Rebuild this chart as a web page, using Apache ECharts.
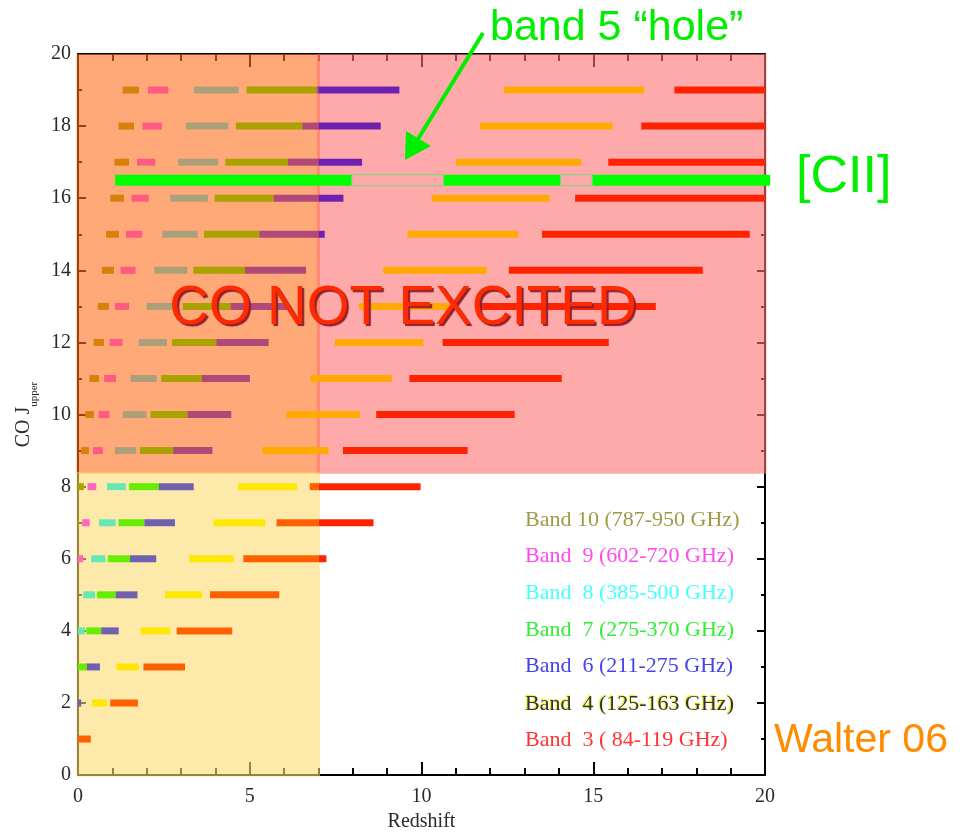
<!DOCTYPE html>
<html>
<head>
<meta charset="utf-8">
<script src="https://cdn.jsdelivr.net/npm/echarts@6/dist/echarts.min.js"></script>
<style>
  html, body { margin: 0; padding: 0; background: #ffffff; }
  #chart { width: 975px; height: 837px; }
</style>
</head>
<body>
<div id="chart"></div>
<script>
// Redshift range covered by each ALMA band for every CO rotational line.
// Each entry: [J_upper, z_start, z_end]
const band10 = [[7, 0, 0.025], [8, 0, 0.171], [9, 0.091, 0.318], [10, 0.213, 0.464], [11, 0.334, 0.610],
  [12, 0.455, 0.756], [13, 0.576, 0.902], [14, 0.697, 1.048], [15, 0.817, 1.194], [16, 0.938, 1.340],
  [17, 1.059, 1.485], [18, 1.180, 1.631], [19, 1.300, 1.777]];
const band9 = [[6, 0, 0.149], [7, 0.120, 0.340], [8, 0.280, 0.531], [9, 0.440, 0.722], [10, 0.600, 0.914],
  [11, 0.760, 1.105], [12, 0.919, 1.296], [13, 1.079, 1.487], [14, 1.239, 1.677], [15, 1.398, 1.868],
  [16, 1.557, 2.059], [17, 1.717, 2.249], [18, 1.876, 2.440], [19, 2.035, 2.630]];
const band8 = [[4, 0, 0.198], [5, 0.153, 0.497], [6, 0.383, 0.796], [7, 0.613, 1.095], [8, 0.844, 1.394],
  [9, 1.074, 1.693], [10, 1.304, 1.992], [11, 1.534, 2.291], [12, 1.764, 2.590], [13, 1.994, 2.888],
  [14, 2.224, 3.186], [15, 2.453, 3.485], [16, 2.683, 3.783], [17, 2.912, 4.081], [18, 3.141, 4.378],
  [19, 3.370, 4.676]];
const band7 = [[3, 0, 0.257], [4, 0.246, 0.677], [5, 0.557, 1.096], [6, 0.869, 1.514], [7, 1.180, 1.933],
  [8, 1.491, 2.352], [9, 1.802, 2.771], [10, 2.113, 3.189], [11, 2.424, 3.607], [12, 2.735, 4.025],
  [13, 3.046, 4.443], [14, 3.356, 4.861], [15, 3.666, 5.279], [16, 3.977, 5.696], [17, 4.287, 6.113],
  [18, 4.596, 6.530], [19, 4.906, 6.946]];
const band6 = [[2, 0, 0.093], [3, 0.257, 0.639], [4, 0.677, 1.185], [5, 1.096, 1.731], [6, 1.514, 2.277],
  [7, 1.933, 2.823], [8, 2.352, 3.369], [9, 2.771, 3.914], [10, 3.189, 4.460], [11, 3.607, 5.005],
  [12, 4.025, 5.550], [13, 4.443, 6.094], [14, 4.861, 6.639], [15, 5.279, 7.183], [16, 5.696, 7.727],
  [17, 6.113, 8.270], [18, 6.530, 8.813], [19, 6.946, 9.356]];
const band4 = [[2, 0.414, 0.844], [3, 1.121, 1.766], [4, 1.828, 2.688], [5, 2.535, 3.610], [6, 3.242, 4.532],
  [7, 3.949, 5.453], [8, 4.655, 6.374], [9, 5.361, 7.295], [10, 6.067, 8.216], [11, 6.773, 9.136],
  [12, 7.479, 10.056], [13, 8.184, 10.975], [14, 8.888, 11.894], [15, 9.593, 12.813], [16, 10.297, 13.731],
  [17, 11.000, 14.648], [18, 11.703, 15.565], [19, 12.406, 16.481]];
const band3 = [[1, 0, 0.372], [2, 0.937, 1.745], [3, 1.906, 3.117], [4, 2.874, 4.489], [5, 3.843, 5.860],
  [6, 4.811, 7.232], [7, 5.779, 8.603], [8, 6.746, 9.974], [9, 7.714, 11.344], [10, 8.681, 12.714],
  [11, 9.647, 14.084], [12, 10.613, 15.452], [13, 11.579, 16.821], [14, 12.544, 18.188], [15, 13.509, 19.555],
  [16, 14.473, 20], [17, 15.437, 20], [18, 16.400, 20], [19, 17.362, 20]];

// [CII] 158 micron line (sits between CO 16-15 and 17-16)
const ciiJ = 16.5;
const ciiCovered = [[1.08, 7.97], [10.64, 14.05], [14.97, 20.15]];
const ciiGaps = [[7.97, 10.64], [14.05, 14.97]];

// Shaded zones: CO lines above this J are not excited; redshift boundary
const excitedMaxJ = 8.4;
const zBoundary = 7;

const legendLabels = ['Band 10 (787-950 GHz)', 'Band  9 (602-720 GHz)', 'Band  8 (385-500 GHz)',
  'Band  7 (275-370 GHz)', 'Band  6 (211-275 GHz)', 'Band  4 (125-163 GHz)', 'Band  3 ( 84-119 GHz)'];

// ---- styling ----
// colours per band: t/b = above/below the excitation limit, l/r = below/above z boundary
const palette = {
  b10: { tl: '#d8800c', bl: '#b2a000' },
  b9:  { tl: '#ff5a82', bl: '#ff66c0' },
  b8:  { tl: '#aca07a', bl: '#66e8b4' },
  b7:  { tl: '#aaa200', bl: '#66ee00' },
  b6:  { tl: '#b04878', tr: '#7020b0', bl: '#7060b0' },
  b4:  { tl: '#ffaa00', tr: '#ffaa00', bl: '#ffe800' },
  b3:  { tl: '#ff2200', tr: '#ff2200', bl: '#ff6000', br: '#ff2200' }
};
const legendColors = ['#a09a48', '#ff48ee', '#44ffff', '#33ee33', '#4444ee', '#333333', '#ff3333'];

const bands = [
  { key: 'b10', rows: band10 }, { key: 'b9', rows: band9 }, { key: 'b8', rows: band8 },
  { key: 'b7', rows: band7 }, { key: 'b6', rows: band6 }, { key: 'b4', rows: band4 },
  { key: 'b3', rows: band3 }
];

const barItems = [];
bands.forEach(function (b) {
  b.rows.forEach(function (r) {
    const j = r[0], z0 = r[1], z1 = r[2];
    const row = j > excitedMaxJ ? 't' : 'b';
    const pieces = (z0 < zBoundary && z1 > zBoundary) ? [[z0, zBoundary], [zBoundary, z1]] : [[z0, z1]];
    pieces.forEach(function (p) {
      const side = p[0] < zBoundary ? 'l' : 'r';
      barItems.push({ value: [p[0], p[1], j], itemStyle: { color: palette[b.key][row + side] } });
    });
  });
});

const regionItems = [
  { value: [0, excitedMaxJ, zBoundary, 20], itemStyle: { color: '#ff6e1e' } },
  { value: [zBoundary, excitedMaxJ, 20, 20], itemStyle: { color: '#ff7171' } },
  { value: [0, 0, zBoundary, excitedMaxJ], itemStyle: { color: '#fbda71' } }
];

const serif = 'Liberation Serif, Times New Roman, serif';
const sans = 'Liberation Sans, Arial, sans-serif';

function renderRegion(params, api) {
  const a = api.coord([api.value(0), api.value(3)]);
  const b = api.coord([api.value(2), api.value(1)]);
  const pad = 1.5;
  return {
    type: 'rect',
    shape: { x: a[0] - pad, y: a[1], width: b[0] - a[0] + 2 * pad, height: b[1] - a[1] + pad },
    style: { fill: api.visual('color'), opacity: 0.6 }
  };
}

function renderBar(params, api) {
  const a = api.coord([api.value(0), api.value(2)]);
  const b = api.coord([api.value(1), api.value(2)]);
  const h = 7;
  return {
    type: 'rect',
    shape: { x: a[0], y: a[1] - h / 2, width: Math.max(b[0] - a[0], 1), height: h },
    style: { fill: api.visual('color') }
  };
}

function renderCii(params, api) {
  const a = api.coord([api.value(0), ciiJ]);
  const b = api.coord([api.value(1), ciiJ]);
  const h = 11;
  return {
    type: 'rect',
    shape: { x: a[0], y: a[1] - h / 2, width: b[0] - a[0], height: h },
    style: { fill: '#00ff00' }
  };
}

function renderCiiGap(params, api) {
  const a = api.coord([api.value(0), ciiJ]);
  const b = api.coord([api.value(1), ciiJ]);
  const h = 11;
  return {
    type: 'rect',
    shape: { x: a[0], y: a[1] - h / 2, width: b[0] - a[0], height: h },
    style: { fill: 'none', stroke: '#7ad87a', lineWidth: 1 }
  };
}

const axisLineStyle = { color: '#000000', width: 2 };
const labelStyle = { fontFamily: serif, fontSize: 20, color: '#2a2a2a' };

const chart = echarts.init(document.getElementById('chart'), null, { renderer: 'canvas' });

const legendGraphics = legendLabels.map(function (t, i) {
  const ys = [520, 556, 593, 630, 666, 704, 740];
  const st = {
    text: t, x: 525, y: ys[i], textVerticalAlign: 'middle', textAlign: 'left',
    font: '22px ' + serif, fill: legendColors[i]
  };
  if (i === 5) {
    st.textShadowColor = '#eeee00';
    st.textShadowOffsetX = -1;
    st.textShadowOffsetY = -1;
    st.textShadowBlur = 1;
  }
  return { type: 'text', z: 20, style: st };
});

function makeX(pos, withLabels) {
  return {
    type: 'value', min: 0, max: 20, interval: 5, position: pos,
    name: withLabels ? 'Redshift' : '', nameLocation: 'middle', nameGap: 35,
    nameTextStyle: { fontFamily: serif, fontSize: 20, color: '#2a2a2a' },
    axisLine: { show: true, onZero: false, lineStyle: axisLineStyle },
    axisTick: { show: true, inside: true, length: 13, lineStyle: { color: '#000', width: 2 } },
    minorTick: { show: true, splitNumber: 5, length: 7, lineStyle: { color: '#000', width: 2 } },
    axisLabel: withLabels ? Object.assign({ margin: 12 }, labelStyle) : { show: false },
    splitLine: { show: false }
  };
}

function makeY(pos, withLabels) {
  return {
    type: 'value', min: 0, max: 20, interval: 2, position: pos,
    name: withLabels ? 'CO J{sub|upper}' : '', nameLocation: 'middle', nameGap: 35,
    nameTextStyle: {
      fontFamily: serif, fontSize: 20, color: '#2a2a2a',
      rich: { sub: { fontFamily: serif, fontSize: 11, color: '#2a2a2a', verticalAlign: 'bottom', lineHeight: 32 } }
    },
    axisLine: { show: true, onZero: false, lineStyle: axisLineStyle },
    axisTick: { show: true, inside: true, length: 8, lineStyle: { color: '#000', width: 2 } },
    minorTick: { show: true, splitNumber: 2, length: 4, lineStyle: { color: '#000', width: 2 } },
    axisLabel: withLabels ? Object.assign({ margin: 7 }, labelStyle) : { show: false },
    splitLine: { show: false }
  };
}

chart.setOption({
  animation: false,
  backgroundColor: '#ffffff',
  grid: { left: 78, right: 210, top: 54, bottom: 56 },
  xAxis: [makeX('bottom', true), makeX('top', false)],
  yAxis: [makeY('left', true), makeY('right', false)],
  series: [
    {
      type: 'custom', name: 'zones', z: 1, silent: true,
      renderItem: renderRegion, encode: { x: [0, 2], y: [1, 3] }, data: regionItems
    },
    {
      type: 'custom', name: 'CO lines', z: 3, silent: true,
      renderItem: renderBar, encode: { x: [0, 1], y: 2 }, data: barItems
    },
    {
      type: 'custom', name: '[CII]', z: 4, silent: true,
      renderItem: renderCii, encode: { x: [0, 1] }, data: ciiCovered
    },
    {
      type: 'custom', name: '[CII] gaps', z: 4, silent: true,
      renderItem: renderCiiGap, encode: { x: [0, 1] }, data: ciiGaps
    }
  ],
  graphic: legendGraphics.concat([
    {
      type: 'text', z: 20,
      style: { text: 'CO NOT EXCITED', x: 403, y: 309, textAlign: 'center', textVerticalAlign: 'middle',
        font: '55px ' + sans, fill: '#ff2a00',
        textShadowColor: '#8a2030', textShadowOffsetX: 2, textShadowOffsetY: 2, textShadowBlur: 1 }
    },
    {
      type: 'text', z: 20,
      style: { text: 'band 5 \u201chole\u201d', x: 490, y: 28, textAlign: 'left', textVerticalAlign: 'middle',
        font: '43px ' + sans, fill: '#00ee00' }
    },
    {
      type: 'line', z: 20,
      shape: { x1: 483, y1: 33, x2: 418, y2: 139 },
      style: { stroke: '#00ee00', lineWidth: 4 }
    },
    {
      type: 'polygon', z: 20,
      shape: { points: [[405, 160], [406, 131], [431, 146]] },
      style: { fill: '#00ee00' }
    },
    {
      type: 'text', z: 20,
      style: { text: '[CII]', x: 796, y: 178, textAlign: 'left', textVerticalAlign: 'middle',
        font: '52px ' + sans, fill: '#00ee00' }
    },
    {
      type: 'text', z: 20,
      style: { text: 'Walter 06', x: 774, y: 741, textAlign: 'left', textVerticalAlign: 'middle',
        font: '41px ' + sans, fill: '#ff8c00' }
    }
  ])
});
</script>
</body>
</html>
